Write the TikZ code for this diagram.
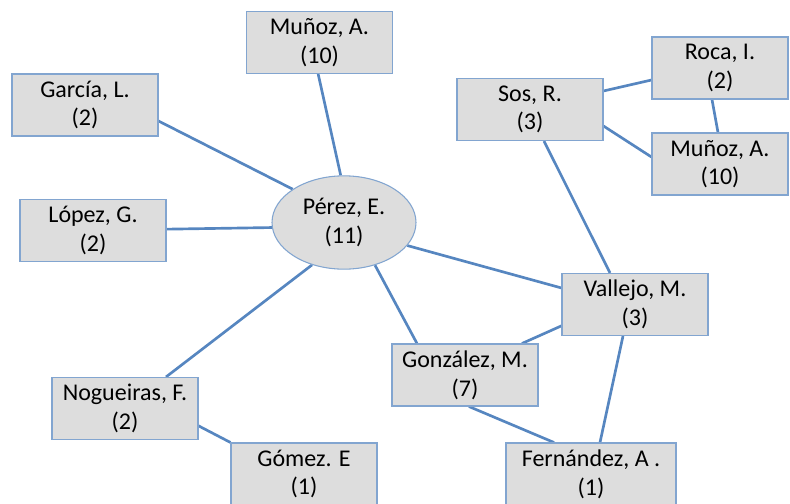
\documentclass[tikz,border=0pt]{standalone}
\usepackage{fontspec}
\setmainfont{Carlito}
\usetikzlibrary{shapes.geometric,backgrounds}
\definecolor{boxfill}{RGB}{221,221,221}
\definecolor{boxline}{RGB}{130,165,208}
\definecolor{edgeblue}{RGB}{86,134,192}
\tikzset{
  box/.style={rectangle, draw=boxline, fill=boxfill, line width=0.8pt,
    minimum width=109.5pt, minimum height=46.5pt, inner sep=1pt,
    align=center, font=\fontsize{18}{21.5}\selectfont},
  narrowbox/.style={box, minimum width=102pt},
  widebox/.style={box, minimum width=127.5pt},
  hub/.style={ellipse, draw=boxline, fill=boxfill, line width=0.8pt,
    minimum width=108pt, minimum height=70pt, inner sep=0pt,
    align=center, font=\fontsize{18}{21.5}\selectfont},
  link/.style={draw=edgeblue, line width=2pt}
}
\begin{document}
\begin{tikzpicture}[x=0.75pt,y=-0.75pt]
\useasboundingbox (0,0) rectangle (790,504);
\node[box] (mun1) at (319.5,42.5) {Muñoz, A.\\(10)};
\node[box] (gar) at (85,105) {García, L.\\(2)};
\node[box] (lop) at (93,230.5) {López, G.\\(2)};
\node[hub] (per) at (344,222.5) {Pérez, E.\\(11)};
\node[box] (sos) at (530,109.5) {Sos, R.\\(3)};
\node[narrowbox] (roca) at (720,68) {Roca, I.\\(2)};
\node[narrowbox] (mun2) at (720,164) {Muñoz, A.\\(10)};
\node[box] (val) at (635,304.5) {Vallejo, M.\\(3)};
\node[box] (gon) at (465,375) {González, M.\\(7)};
\node[widebox] (fer) at (591,474) {Fernández, A .\\(1)};
\node[box] (nog) at (125,408.5) {Nogueiras, F.\\(2)};
\node[box] (gom) at (304,474) {Gómez. E\\(1)};
\begin{scope}[on background layer]
\draw[link] ([xshift=-1pt]mun1.south) -- (per.94);
\draw[link] ([yshift=-12pt]gar.east) -- (per.147);
\draw[link] ([yshift=1pt]lop.east) -- (per.184);
\draw[link] (per.233) -- ([xshift=30.75pt]nog.north);
\draw[link] (per.306) -- ([xshift=-36pt]gon.north);
\draw[link] (per.340) -- ([yshift=12.4pt]val.west);
\draw[link] ([xshift=10.5pt]sos.south) -- ([xshift=-18.75pt]val.north);
\draw[link] ([yshift=13.9pt]sos.east) -- ([yshift=-9pt]roca.west);
\draw[link] ([yshift=-12.4pt]sos.east) -- ([yshift=5.25pt]mun2.west);
\draw[link] ([xshift=-6pt]roca.south) -- ([xshift=-1.5pt]mun2.north);
\draw[link] ([yshift=-16pt]val.west) -- ([xshift=42.75pt]gon.north);
\draw[link] ([xshift=-9pt]val.south) -- ([xshift=6.75pt]fer.north);
\draw[link] ([xshift=3pt]gon.south) -- ([xshift=-27.75pt]fer.north);
\draw[link] ([yshift=-13pt]nog.east) -- (gom.north west);
\end{scope}
\end{tikzpicture}
\end{document}
